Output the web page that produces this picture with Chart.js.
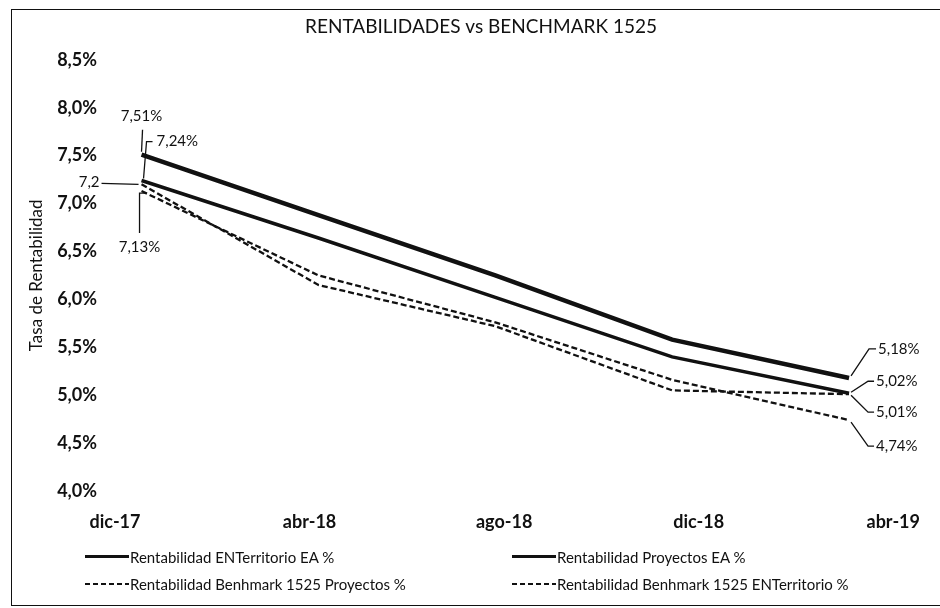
<!DOCTYPE html>
<html>
<head>
<meta charset="utf-8">
<script src="https://cdn.jsdelivr.net/npm/chart.js@4.4.1/dist/chart.umd.min.js"></script>
<style>
html, body { margin: 0; padding: 0; background: #fff; }
#wrap { position: relative; width: 940px; height: 608px; overflow: hidden; font-family: Lato, sans-serif; }
#frame { position: absolute; left: 11px; top: 9px; width: 980px; height: 595px; border: 1.5px solid #111; }
canvas { position: absolute; left: 0; top: 0; }
#legend { position: absolute; left: 85px; top: 543px; display: grid; grid-template-columns: 427px auto; grid-auto-rows: 27px; font-size: 15px; color: #111; }
.item { display: flex; align-items: center; }
.item i { display: inline-block; width: 44px; height: 3px; margin-right: 1px; background: #111; }
.item i.dash { height: 2px; background: repeating-linear-gradient(90deg, #111 0 5px, transparent 5px 8px); }
</style>
</head>
<body>
<div id="wrap">
  <div id="frame"></div>
  <canvas id="grafico" width="940" height="608"></canvas>
  <div id="legend"></div>
</div>
<script>
// datos
const meses = ["dic-17", "abr-18", "ago-18", "dic-18", "abr-19"];
const rentEnterritorio = [7.51, 6.88, 6.25, 5.58, 5.18];
const rentProyectos = [7.24, 6.64, 6.02, 5.40, 5.02];
const benchProyectos = [7.20, 6.15, 5.72, 5.05, 5.01];
const benchEnterritorio = [7.13, 6.25, 5.76, 5.16, 4.74];

const pct = (v, d) => v.toFixed(d).replace(".", ",") + "%";
const puntos = arr => arr.map((v, i) => ({ x: i, y: v }));

// donde caen las etiquetas del eje x (unidades del eje)
const posMeses = [-0.15, 0.95, 2.05, 3.15, 4.25];

// etiquetas de datos: desplazamientos y lineas guia respecto al punto
const etiquetas = [
    { ds: 0, idx: 0, dx: 0, dy: -39, align: "center", guia: [[1, -25], [0, -3]] },
    { ds: 1, idx: 0, dx: 15, dy: -39, align: "left", guia: [[11, -39], [5, -39], [2, -2]] },
    { ds: 2, idx: 0, dx: -42, dy: -2, align: "right", guia: [[-40, -1], [-3, 0]], corto: 3 },
    { ds: 3, idx: 0, dx: -2, dy: 56, align: "center", guia: [[5, 2], [-2, 2], [-2, 42]] },
    { ds: 0, idx: 4, dx: 29, dy: -29, align: "left", guia: [[2, -2], [20, -29], [27, -29]] },
    { ds: 1, idx: 4, dx: 27, dy: -12, align: "left", guia: [[2, -1], [19, -12], [25, -12]] },
    { ds: 2, idx: 4, dx: 27, dy: 18, align: "left", guia: [[2, 1], [19, 18], [25, 18]] },
    { ds: 3, idx: 4, dx: 27, dy: 26, align: "left", guia: [[2, 2], [19, 26], [25, 26]] }
];

const etiquetasPlugin = {
    id: "etiquetas",
    afterDatasetsDraw(chart) {
        const ctx = chart.ctx;
        ctx.save();
        ctx.font = "15px Lato";
        ctx.fillStyle = "#111";
        ctx.strokeStyle = "#111";
        ctx.lineWidth = 1.3;
        ctx.textBaseline = "middle";
        etiquetas.forEach(e => {
            const p = chart.getDatasetMeta(e.ds).data[e.idx];
            const valor = chart.data.datasets[e.ds].data[e.idx].y;
            let txt = pct(valor, 2);
            if (e.corto) txt = txt.slice(0, e.corto);
            ctx.beginPath();
            e.guia.forEach((g, k) => {
                if (k === 0) ctx.moveTo(p.x + g[0], p.y + g[1]);
                else ctx.lineTo(p.x + g[0], p.y + g[1]);
            });
            ctx.stroke();
            ctx.textAlign = e.align;
            ctx.fillText(txt, p.x + e.dx, p.y + e.dy);
        });
        ctx.restore();
    }
};

const chart = new Chart(document.getElementById("grafico"), {
    type: "line",
    data: {
        datasets: [
            { label: "Rentabilidad ENTerritorio EA  %", data: puntos(rentEnterritorio), borderColor: "#111", borderWidth: 4.5 },
            { label: "Rentabilidad Proyectos EA %", data: puntos(rentProyectos), borderColor: "#111", borderWidth: 3.5 },
            { label: "Rentabilidad Benhmark 1525 Proyectos %", data: puntos(benchProyectos), borderColor: "#111", borderWidth: 2.3, borderDash: [6, 3] },
            { label: "Rentabilidad Benhmark 1525 ENTerritorio %", data: puntos(benchEnterritorio), borderColor: "#111", borderWidth: 2.3, borderDash: [6, 3] }
        ]
    },
    options: {
        responsive: false,
        animation: false,
        devicePixelRatio: 1,
        elements: { point: { radius: 0 }, line: { tension: 0 } },
        layout: { padding: { left: 22, right: 0, top: 0, bottom: 72 } },
        plugins: {
            legend: { display: false },
            tooltip: { enabled: false },
            title: {
                display: true,
                text: "RENTABILIDADES vs BENCHMARK 1525",
                color: "#111",
                font: { family: "Lato", size: 19, weight: "normal" },
                padding: { top: 15, bottom: 22 }
            }
        },
        scales: {
            x: {
                type: "linear",
                min: -0.15,
                max: 4.46,
                grid: { display: false, drawTicks: false },
                border: { display: false },
                afterBuildTicks: s => { s.ticks = posMeses.map(v => ({ value: v })); },
                afterFit: s => { s.height = 45; },
                ticks: {
                    autoSkip: false,
                    maxRotation: 0,
                    padding: 20,
                    color: "#111",
                    font: { family: "Lato", size: 18, weight: "bold" },
                    callback: (v, i) => meses[i]
                }
            },
            y: {
                min: 4,
                max: 8.5,
                grid: { display: false, drawTicks: false },
                border: { display: false },
                afterFit: s => { s.width = 93; },
                ticks: {
                    stepSize: 0.5,
                    padding: 18,
                    color: "#111",
                    font: { family: "Lato", size: 18, weight: "bold" },
                    callback: v => pct(v, 1)
                },
                title: {
                    display: true,
                    text: "Tasa de Rentabilidad",
                    color: "#111",
                    font: { family: "Lato", size: 17 }
                }
            }
        }
    },
    plugins: [etiquetasPlugin]
});

// leyenda en dos columnas
const leyenda = document.getElementById("legend");
chart.data.datasets.forEach(d => {
    const item = document.createElement("div");
    item.className = "item";
    item.innerHTML = `<i class="${d.borderDash ? "dash" : ""}"></i><span>${d.label}</span>`;
    leyenda.appendChild(item);
});
</script>
</body>
</html>
